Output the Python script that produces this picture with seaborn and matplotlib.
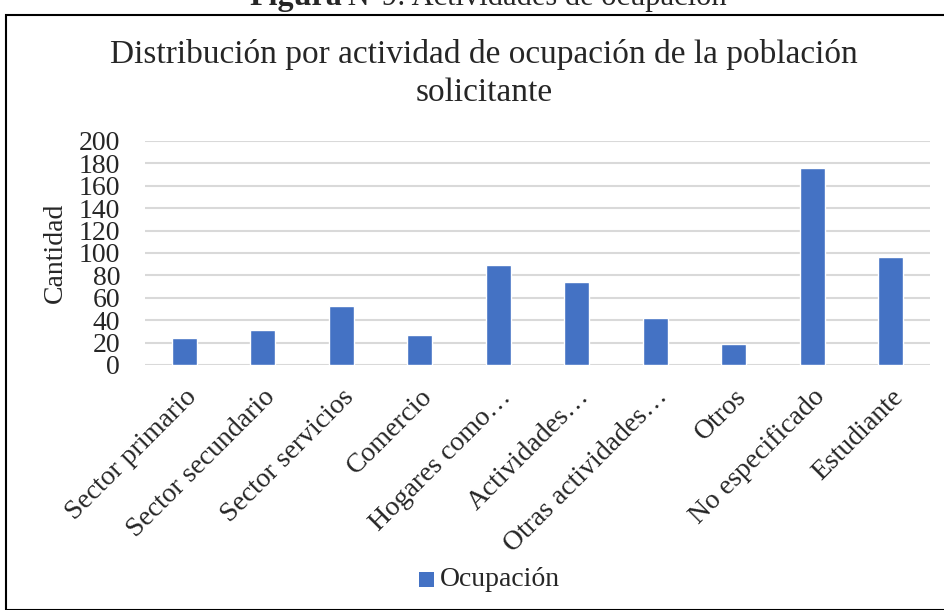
import seaborn as sb
import matplotlib.pyplot as plt
import pandas as pd
from matplotlib.patches import Rectangle

categorias = ['Sector primario', 'Sector secundario', 'Sector servicios', 'Comercio',
              'Hogares como…', 'Actividades…', 'Otras actividades…', 'Otros',
              'No especificado', 'Estudiante']
cantidad = [24, 31, 53, 27, 89, 74, 42, 19, 176, 96]
yticks = list(range(0, 201, 20))

data = pd.DataFrame({'Actividad': categorias, 'Cantidad': cantidad, 'Serie': 'Ocupación'})

sb.set_style('white')
plt.rcParams['font.family'] = ['Liberation Serif', 'DejaVu Serif']

fig = plt.figure(figsize=(9.44, 6.1), dpi=100)
ax = fig.add_axes([145 / 944, 1 - 365 / 610, 785 / 944, 224 / 610])

sb.barplot(x='Actividad', y='Cantidad', hue='Serie', data=data, ax=ax,
           palette=['#4472C4'], width=0.32, saturation=1, legend=False)

ax.set_ylim(0, 200)
ax.set_yticks(yticks)
ax.yaxis.grid(True, color='#d9d9d9', linewidth=1.5)
ax.set_axisbelow(True)
for s in ax.spines.values():
    s.set_visible(False)
ax.tick_params(axis='both', length=0, labelsize=20)
ax.tick_params(axis='y', pad=18)
ax.tick_params(axis='x', pad=14)
ax.set_xticks(range(len(categorias)))
ax.set_xticklabels(categorias, rotation=45, ha='right', rotation_mode='anchor')
ax.set_xlabel('')
ax.set_ylabel('Cantidad', fontsize=20, labelpad=8)

fig.text(484 / 944, 1 - 55 / 610, 'Distribución por actividad de ocupación de la población',
         ha='center', va='center', fontsize=24)
fig.text(484 / 944, 1 - 93 / 610, 'solicitante', ha='center', va='center', fontsize=24)

# caption above the chart box, cut at the top
fig.text(342 / 944, 1.0 + 3 / 610, 'Figura', ha='right', va='center', fontsize=23, weight='bold')
fig.text(340 / 944, 1.0 + 3 / 610, ' N°9: Actividades de ocupación', ha='left', va='center', fontsize=22)

fig.patches.append(Rectangle((6 / 944, 0), 1.2, 1 - 15 / 610, transform=fig.transFigure,
                             fill=False, edgecolor='black', linewidth=1.5))

fig.patches.append(Rectangle((419 / 944, 1 - 587 / 610), 15 / 944, 15 / 610,
                             transform=fig.transFigure, facecolor='#4472C4', edgecolor='none'))
fig.text(440 / 944, 1 - 579 / 610, 'Ocupación', ha='left', va='center', fontsize=20)

plt.savefig('out.png', dpi=100)
